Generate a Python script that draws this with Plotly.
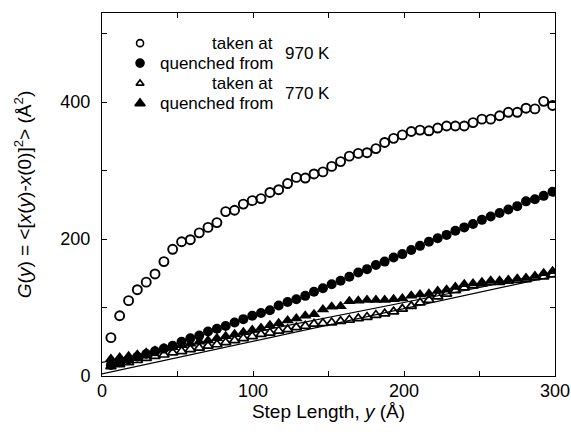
import plotly.graph_objects as go

# Step length values (Å)
step = [5.9, 11.7, 17.6, 23.4, 29.3, 35.1, 41.0, 46.8, 52.7, 58.5, 64.4, 70.2, 76.1,
        81.9, 87.8, 93.6, 99.5, 105.3, 111.2, 117.0, 122.9, 128.7, 134.6, 140.4, 146.3,
        152.1, 158.0, 163.8, 169.7, 175.5, 181.4, 187.2, 193.1, 198.9, 204.8, 210.6,
        216.5, 222.3, 228.2, 234.0, 239.9, 245.7, 251.6, 257.4, 263.3, 269.1, 275.0,
        280.8, 286.7, 292.5, 298.4]

g_taken_970 = [56, 88, 110, 126, 137, 149, 167, 185, 196, 199, 209, 217, 224, 240, 242,
               251, 256, 259, 268, 272, 281, 290, 289, 295, 298, 306, 313, 321, 325, 326,
               332, 341, 347, 352, 357, 359, 358, 362, 365, 365, 365, 370, 375, 375, 380,
               385, 385, 391, 390, 401, 395]

g_quenched_970 = [16, 20, 24, 28, 32, 36, 40, 44, 50, 55, 59, 65, 69, 73, 78, 83, 88, 92,
                  96, 103, 108, 112, 117, 123, 128, 134, 139, 145, 151, 156, 162, 167, 173,
                  178, 184, 190, 196, 201, 206, 212, 217, 222, 228, 233, 238, 243, 248, 255,
                  258, 263, 269]

g_taken_770 = [14, 17, 20, 23, 26, 29, 31, 34, 36, 39, 41, 44, 46, 49, 52, 55, 58, 61, 63,
               66, 68, 71, 73, 76, 77, 78, 80, 82, 84, 86, 89, 91, 94, 98, 102, 107, 111,
               116, 120, 125, 129, 132, 135, 137, 137, 139, 140, 141, 144, 145, 148]

g_quenched_770 = [25, 27, 29, 31, 34, 37, 40, 42, 45, 47, 50, 52, 55, 58, 61, 64, 67, 70,
                  74, 77, 81, 84, 88, 90, 97, 101, 102, 109, 110, 111, 111, 111, 112, 113,
                  117, 119, 120, 124, 126, 130, 134, 135, 137, 139, 139, 140, 142, 143, 146,
                  150, 153]

# linear fits for the 770 K data
fit_x = [0, 300]
fit_taken_770 = [3, 146]
fit_quenched_770 = [20, 151]

x_ticks = [0, 50, 100, 150, 200, 250, 300]
x_ticktext = ["0", "", "100", "", "200", "", "300"]
y_ticks = [0, 100, 200, 300, 400, 500]
y_ticktext = ["0", "", "200", "", "400", ""]

legend_labels = ["taken at", "quenched from", "taken at", "quenched from"]
legend_temps = ["970 K", "770 K"]

FONT = "Liberation Sans, Arial, Helvetica, sans-serif"
BLACK = "black"

fig = go.Figure()

fig.add_trace(go.Scatter(x=fit_x, y=fit_taken_770, mode="lines",
                         line=dict(color=BLACK, width=1.2), showlegend=False))
fig.add_trace(go.Scatter(x=fit_x, y=fit_quenched_770, mode="lines",
                         line=dict(color=BLACK, width=1.2), showlegend=False))

fig.add_trace(go.Scatter(x=step, y=g_taken_970, mode="markers",
                         marker=dict(symbol="circle-open", size=9, color=BLACK,
                                     line=dict(width=1.9, color=BLACK)),
                         showlegend=False))
fig.add_trace(go.Scatter(x=step, y=g_quenched_970, mode="markers",
                         marker=dict(symbol="circle", size=10, color=BLACK),
                         showlegend=False))
fig.add_trace(go.Scatter(x=step, y=g_taken_770, mode="markers",
                         marker=dict(symbol="triangle-up-open", size=9, color=BLACK,
                                     line=dict(width=1.7, color=BLACK)),
                         showlegend=False))
fig.add_trace(go.Scatter(x=step, y=g_quenched_770, mode="markers",
                         marker=dict(symbol="triangle-up", size=11, color=BLACK),
                         showlegend=False))

# custom legend (overlay axes spanning the plot area)
leg_x = 0.084
leg_rows = [0.917, 0.862, 0.806, 0.751]
leg_symbols = ["circle-open", "circle", "triangle-up-open", "triangle-up"]
leg_sizes = [7, 8, 7, 9]
for yy, sym, sz in zip(leg_rows, leg_symbols, leg_sizes):
    fig.add_trace(go.Scatter(x=[leg_x], y=[yy], xaxis="x2", yaxis="y2", mode="markers",
                             marker=dict(symbol=sym, size=sz, color=BLACK,
                                         line=dict(width=1.6, color=BLACK)),
                             showlegend=False, hoverinfo="skip"))

annotations = []
for yy, lab in zip(leg_rows, legend_labels):
    annotations.append(dict(x=0.381, y=yy, xref="paper", yref="paper", text=lab,
                            showarrow=False, xanchor="right", yanchor="middle",
                            font=dict(family=FONT, size=17, color=BLACK)))
for yy, lab in zip([(leg_rows[0] + leg_rows[1]) / 2, (leg_rows[2] + leg_rows[3]) / 2],
                   legend_temps):
    annotations.append(dict(x=0.400, y=yy, xref="paper", yref="paper", text=lab,
                            showarrow=False, xanchor="left", yanchor="middle",
                            font=dict(family=FONT, size=17, color=BLACK)))

axis_common = dict(showline=True, linecolor=BLACK, linewidth=1, mirror="ticks",
                   ticks="inside", ticklen=5, tickwidth=1, tickcolor=BLACK,
                   showgrid=False, zeroline=False, automargin=False,
                   tickfont=dict(family=FONT, size=18, color=BLACK))

fig.update_layout(
    width=571, height=436,
    margin=dict(l=102, r=16, t=13, b=60, autoexpand=False),
    paper_bgcolor="white", plot_bgcolor="white",
    font=dict(family=FONT, size=17, color=BLACK),
    xaxis=dict(range=[0, 300], tickmode="array", tickvals=x_ticks, ticktext=x_ticktext,
               ticklabelstandoff=-2,
               title=dict(text="Step Length, <i>y</i> (Å)", standoff=0,
                          font=dict(family=FONT, size=19, color=BLACK)),
               **axis_common),
    yaxis=dict(range=[0, 530], tickmode="array", tickvals=y_ticks, ticktext=y_ticktext,
               ticklabelstandoff=7,
               title=dict(text="<i>G</i>(<i>y</i>) = &lt;[<i>x</i>(<i>y</i>)-<i>x</i>(0)]<sup>2</sup>&gt; (Å<sup>2</sup>)",
                          standoff=23, font=dict(family=FONT, size=19, color=BLACK)),
               **axis_common),
    xaxis2=dict(overlaying="x", range=[0, 1], visible=False),
    yaxis2=dict(overlaying="y", range=[0, 1], visible=False),
    annotations=annotations,
    showlegend=False,
)

# remove the default page margin so the figure fills the window exactly
fig.write_html("out.html",
               config={"displayModeBar": False},
               post_script="document.body.style.margin='0px';"
                           "document.body.style.overflow='hidden';")
